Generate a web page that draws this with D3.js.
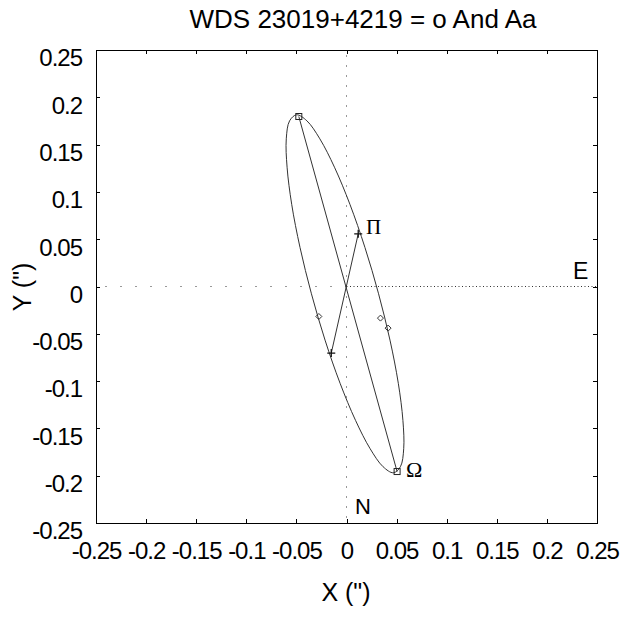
<!DOCTYPE html>
<html>
<head>
<meta charset="utf-8">
<title>WDS 23019+4219</title>
<script src="https://cdnjs.cloudflare.com/ajax/libs/d3/7.8.5/d3.min.js"></script>
<style>
  body { margin: 0; background: #fff; }
  svg text { font-family: "Liberation Sans", Arial, sans-serif; fill: #000; }
  .axis path, .axis line { stroke: #000; shape-rendering: crispEdges; }
</style>
</head>
<body>
<svg id="chart" width="624" height="620"></svg>
<script>
// ticks
var xTicks = [-0.25, -0.2, -0.15, -0.1, -0.05, 0, 0.05, 0.1, 0.15, 0.2, 0.25];
var xTickLabels = ["-0.25", "-0.2", "-0.15", "-0.1", "-0.05", "0", "0.05", "0.1", "0.15", "0.2", "0.25"];
var yTicks = [-0.25, -0.2, -0.15, -0.1, -0.05, 0, 0.05, 0.1, 0.15, 0.2, 0.25];
var yTickLabels = ["-0.25", "-0.2", "-0.15", "-0.1", "-0.05", "0", "0.05", "0.1", "0.15", "0.2", "0.25"];

// apparent orbit (arcsec)
var orbitX = [-0.0498, -0.0395, -0.0266, -0.0120, 0.0034, 0.0184, 0.0320, 0.0434,
              0.0517, 0.0563, 0.0571, 0.0538, 0.0468, 0.0365, 0.0236, 0.0090,
              -0.0064, -0.0214, -0.0350, -0.0464, -0.0547, -0.0593, -0.0601, -0.0568];
var orbitY = [0.1815, 0.1751, 0.1561, 0.1261, 0.0869, 0.0413, -0.0077, -0.0567,
              -0.1023, -0.1415, -0.1715, -0.1905, -0.1969, -0.1905, -0.1715, -0.1415,
              -0.1023, -0.0567, -0.0077, 0.0413, 0.0869, 0.1261, 0.1561, 0.1751];

// line of nodes (squares) and line of apsides (periastron, apastron)
var nodesX = [-0.0476, 0.0505];
var nodesY = [0.1797, -0.1956];
var apsidesX = [0.0117, -0.0152];
var apsidesY = [0.0557, -0.0704];

// observations
var obsX = [-0.0276, 0.0339, 0.0415];
var obsY = [-0.0317, -0.0334, -0.0440];

var title = "WDS 23019+4219 = o And Aa";

var svg = d3.select("#chart");
var x = d3.scaleLinear().domain([-0.25, 0.25]).range([96, 597]);
var y = d3.scaleLinear().domain([-0.25, 0.25]).range([523, 50]);

// dotted cross through the primary
var dots = [
  {x1: 0, y1: 0, x2: 0.25, y2: 0, dash: "1,2.5"},
  {x1: 0, y1: 0, x2: -0.25, y2: 0, dash: "1,14"},
  {x1: 0, y1: 0, x2: 0, y2: 0.25, dash: "1,9"},
  {x1: 0, y1: 0, x2: 0, y2: -0.25, dash: "1,9"}
];
svg.selectAll("line.dot").data(dots).enter().append("line")
  .attr("class", "dot")
  .attr("x1", d => x(d.x1)).attr("y1", d => y(d.y1))
  .attr("x2", d => x(d.x2)).attr("y2", d => y(d.y2))
  .attr("stroke", "#333").attr("stroke-width", 1)
  .attr("stroke-dasharray", d => d.dash);

// axes, ticks inside
var bottom = svg.append("g").attr("class", "axis")
  .attr("transform", "translate(0," + y(-0.25) + ")")
  .call(d3.axisBottom(x).tickValues(xTicks).tickFormat((d, i) => xTickLabels[i])
        .tickSizeInner(-4).tickSizeOuter(0).tickPadding(19));
var left = svg.append("g").attr("class", "axis")
  .attr("transform", "translate(" + x(-0.25) + ",0)")
  .call(d3.axisLeft(y).tickValues(yTicks).tickFormat((d, i) => yTickLabels[i])
        .tickSizeInner(-4).tickSizeOuter(0).tickPadding(14));
svg.append("g").attr("class", "axis")
  .attr("transform", "translate(0," + y(0.25) + ")")
  .call(d3.axisTop(x).tickValues(xTicks).tickFormat("").tickSizeInner(-4).tickSizeOuter(0));
svg.append("g").attr("class", "axis")
  .attr("transform", "translate(" + x(0.25) + ",0)")
  .call(d3.axisRight(y).tickValues(yTicks).tickFormat("").tickSizeInner(-4).tickSizeOuter(0));

svg.selectAll(".axis text")
  .style("font-family", "'Liberation Sans', Arial, sans-serif")
  .style("font-size", "24px")
  .style("letter-spacing", "-1px");
left.selectAll("text").attr("dy", "0.66em");

// orbit
var line = d3.line().x(d => x(d[0])).y(d => y(d[1])).curve(d3.curveCatmullRomClosed);
svg.append("path")
  .datum(orbitX.map((v, i) => [v, orbitY[i]]))
  .attr("d", line)
  .attr("fill", "none").attr("stroke", "#333").attr("stroke-width", 1);

svg.append("line")
  .attr("x1", x(nodesX[0])).attr("y1", y(nodesY[0]))
  .attr("x2", x(nodesX[1])).attr("y2", y(nodesY[1]))
  .attr("stroke", "#333");
svg.append("line")
  .attr("x1", x(apsidesX[0])).attr("y1", y(apsidesY[0]))
  .attr("x2", x(apsidesX[1])).attr("y2", y(apsidesY[1]))
  .attr("stroke", "#333");

// node squares
svg.selectAll("rect.node").data(nodesX).enter().append("rect")
  .attr("class", "node")
  .attr("x", (d, i) => x(d) - 3).attr("y", (d, i) => y(nodesY[i]) - 3)
  .attr("width", 6).attr("height", 6)
  .attr("fill", "none").attr("stroke", "#222");

// apsides crosses
svg.selectAll("path.aps").data(apsidesX).enter().append("path")
  .attr("class", "aps")
  .attr("d", (d, i) => {
    var cx = x(d), cy = y(apsidesY[i]);
    return "M" + (cx - 4) + "," + cy + "H" + (cx + 4) + "M" + cx + "," + (cy - 4) + "V" + (cy + 4);
  })
  .attr("stroke", "#111").attr("stroke-width", 1.3);

// observation diamonds
svg.selectAll("path.obs").data(obsX).enter().append("path")
  .attr("class", "obs")
  .attr("d", (d, i) => {
    var cx = x(d), cy = y(obsY[i]);
    return "M" + cx + "," + (cy - 3) + "L" + (cx + 3) + "," + cy + "L" + cx + "," + (cy + 3) + "L" + (cx - 3) + "," + cy + "Z";
  })
  .attr("fill", "none").attr("stroke", "#333");

// labels
svg.append("text").attr("x", 363).attr("y", 28).attr("text-anchor", "middle")
  .style("font-size", "26px").text(title);
svg.append("text").attr("x", 346).attr("y", 601).attr("text-anchor", "middle")
  .style("font-size", "25px").text("X (\")");
svg.append("text").attr("transform", "translate(31,287) rotate(-90)").attr("text-anchor", "middle")
  .style("font-size", "25px").text("Y (\")");
svg.append("text").attr("x", 573).attr("y", 279).style("font-size", "23px").text("E");
svg.append("text").attr("x", 355).attr("y", 514).style("font-size", "22px").text("N");
svg.append("text").attr("x", 366).attr("y", 234)
  .style("font-family", "'Liberation Serif', 'Times New Roman', serif").style("font-size", "21px").text("Π");
svg.append("text").attr("x", 406).attr("y", 477)
  .style("font-family", "'Liberation Serif', 'Times New Roman', serif").style("font-size", "22px").text("Ω");
</script>
</body>
</html>
